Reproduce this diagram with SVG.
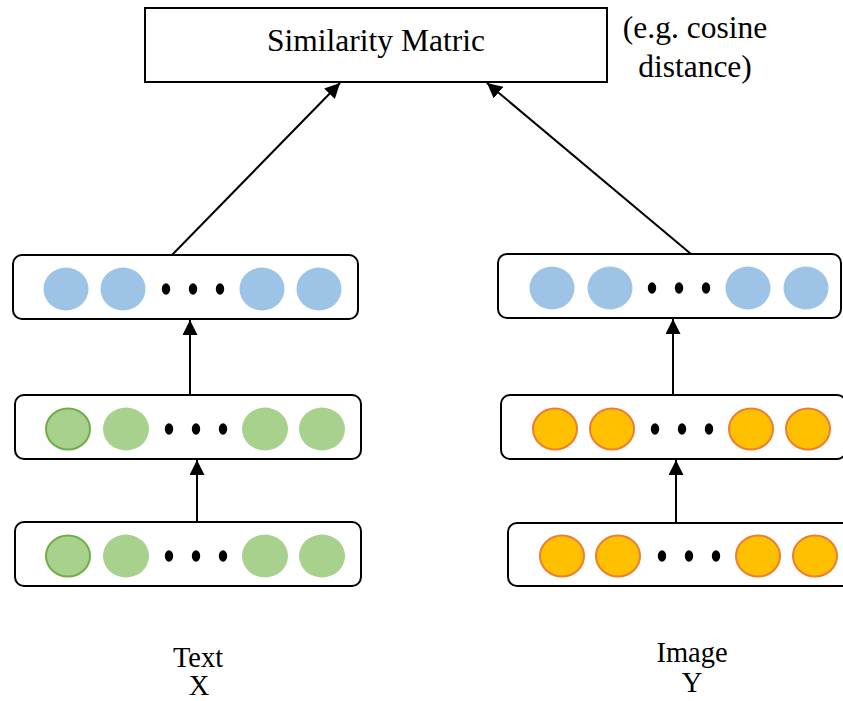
<svg xmlns="http://www.w3.org/2000/svg" width="843" height="701" viewBox="0 0 843 701">
  <style>
    .label { font-family: "Liberation Serif", "Times New Roman", serif; fill: #000; text-anchor: middle; }
    .box { fill: #fff; stroke: #000; stroke-width: 2; }
    .blue { fill: #9DC3E6; }
    .green { fill: #A9D18E; }
    .green-edge { fill: #A9D18E; stroke: #70AD47; stroke-width: 2; }
    .orange { fill: #FFC000; stroke: #ED7D31; stroke-width: 2; }
    .dot { fill: #000; }
    .conn { stroke: #000; stroke-width: 2; fill: none; marker-end: url(#arrow); }
  </style>
  <defs>
    <marker id="arrow" viewBox="0 0 10 10" refX="10" refY="5" markerWidth="7.5" markerHeight="7.5" orient="auto" markerUnits="strokeWidth">
      <path d="M0,0 L10,5 L0,10 Z" fill="#000"/>
    </marker>
    <g id="dots">
      <ellipse class="dot" cx="0" cy="0" rx="4.2" ry="5.8"/>
      <ellipse class="dot" cx="27" cy="0" rx="4.2" ry="5.8"/>
      <ellipse class="dot" cx="54" cy="0" rx="4.2" ry="5.8"/>
    </g>
  </defs>

  <rect width="843" height="701" fill="#fff"/>

  <!-- similarity matrix -->
  <g id="similarity">
    <rect x="145" y="8" width="462" height="74" fill="#fff" stroke="#000" stroke-width="2"/>
    <text class="label" x="376" y="51" font-size="31.5">Similarity Matric</text>
  </g>
  <g id="note">
    <text class="label" x="695" y="38" font-size="31.5">(e.g. cosine</text>
    <text class="label" x="695" y="77" font-size="31.5">distance)</text>
  </g>

  <!-- text branch -->
  <g id="text-embed">
    <rect class="box" x="13" y="255" width="345" height="64" rx="9"/>
    <ellipse class="blue" cx="66" cy="289" rx="22.5" ry="21.5"/>
    <ellipse class="blue" cx="123" cy="289" rx="22.5" ry="21.5"/>
    <use href="#dots" x="166" y="289"/>
    <ellipse class="blue" cx="262" cy="289" rx="22.5" ry="21.5"/>
    <ellipse class="blue" cx="319" cy="289" rx="22.5" ry="21.5"/>
  </g>
  <g id="text-hidden">
    <rect class="box" x="15" y="395" width="346" height="64" rx="9"/>
    <ellipse class="green-edge" cx="68" cy="429" rx="22" ry="20.5"/>
    <ellipse class="green" cx="126" cy="429" rx="23" ry="21.5"/>
    <use href="#dots" x="169" y="429"/>
    <ellipse class="green" cx="265" cy="429" rx="23" ry="21.5"/>
    <ellipse class="green" cx="322" cy="429" rx="23" ry="21.5"/>
  </g>
  <g id="text-input">
    <rect class="box" x="15" y="522" width="346" height="64" rx="9"/>
    <ellipse class="green-edge" cx="68" cy="556" rx="22" ry="20.5"/>
    <ellipse class="green" cx="126" cy="556" rx="23" ry="21.5"/>
    <use href="#dots" x="169" y="556"/>
    <ellipse class="green" cx="265" cy="556" rx="23" ry="21.5"/>
    <ellipse class="green" cx="322" cy="556" rx="23" ry="21.5"/>
  </g>

  <!-- image branch -->
  <g id="image-embed">
    <rect class="box" x="498" y="254" width="343" height="64" rx="9"/>
    <ellipse class="blue" cx="552" cy="288" rx="22.5" ry="21.5"/>
    <ellipse class="blue" cx="610" cy="288" rx="22.5" ry="21.5"/>
    <use href="#dots" x="652" y="288"/>
    <ellipse class="blue" cx="748" cy="288" rx="22.5" ry="21.5"/>
    <ellipse class="blue" cx="806" cy="288" rx="22.5" ry="21.5"/>
  </g>
  <g id="image-hidden">
    <rect class="box" x="501" y="395" width="345" height="64" rx="9"/>
    <ellipse class="orange" cx="555" cy="429" rx="22" ry="20.5"/>
    <ellipse class="orange" cx="612" cy="429" rx="22" ry="20.5"/>
    <use href="#dots" x="655" y="429"/>
    <ellipse class="orange" cx="751" cy="429" rx="22" ry="20.5"/>
    <ellipse class="orange" cx="808" cy="429" rx="22" ry="20.5"/>
  </g>
  <g id="image-input">
    <rect class="box" x="508" y="523" width="345" height="63" rx="9"/>
    <ellipse class="orange" cx="562" cy="556" rx="22" ry="20.5"/>
    <ellipse class="orange" cx="618" cy="556" rx="22" ry="20.5"/>
    <use href="#dots" x="662" y="556"/>
    <ellipse class="orange" cx="758" cy="556" rx="22" ry="20.5"/>
    <ellipse class="orange" cx="815" cy="556" rx="22" ry="20.5"/>
  </g>

  <!-- captions -->
  <g id="caption-text">
    <text class="label" x="198" y="667" font-size="28.5">Text</text>
    <text class="label" x="199" y="695" font-size="28.5">X</text>
  </g>
  <g id="caption-image">
    <text class="label" x="692" y="662" font-size="28.5">Image</text>
    <text class="label" x="692" y="692" font-size="28.5">Y</text>
  </g>

  <!-- connectors -->
  <g id="connectors">
    <line class="conn" x1="197" y1="522" x2="197" y2="460"/>
    <line class="conn" x1="190" y1="395" x2="190" y2="320"/>
    <line class="conn" x1="172" y1="255" x2="340" y2="83"/>
    <line class="conn" x1="676" y1="523" x2="676" y2="460"/>
    <line class="conn" x1="673" y1="395" x2="673" y2="319"/>
    <line class="conn" x1="691" y1="254" x2="487" y2="83"/>
  </g>
</svg>
